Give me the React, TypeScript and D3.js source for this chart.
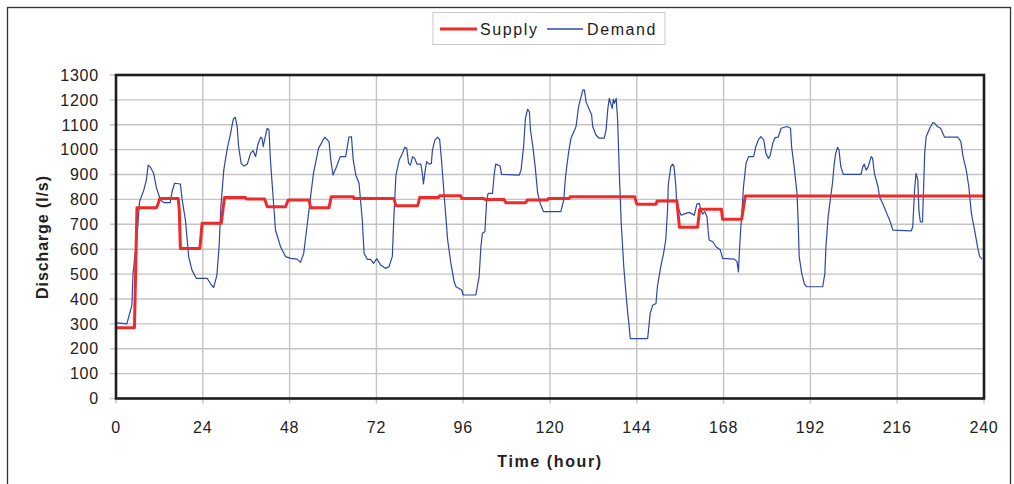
import React from "react";
import * as d3 from "d3";

const xTicks = [0, 24, 48, 72, 96, 120, 144, 168, 192, 216, 240];
const yTicks = [0, 100, 200, 300, 400, 500, 600, 700, 800, 900, 1000, 1100, 1200, 1300];
const seriesNames = ["Supply", "Demand"];

const supply: [number, number][] = [
  [0, 284], [5.1, 284], [5.8, 767], [11.2, 767], [11.6, 780], [12.1, 804], [17.2, 804], [17.5, 757], [17.8, 603],
  [23.2, 603], [23.8, 704], [29.1, 704], [30, 808], [35.8, 808], [36, 802], [41.1, 802], [41.8, 771], [46.9, 771],
  [47.6, 798], [53.4, 798], [53.8, 767], [58.9, 767], [59.5, 811], [65.6, 811], [65.8, 804], [76.8, 804], [77.4, 775],
  [83.4, 775], [84, 808], [89.2, 808], [89.5, 815], [95.3, 815], [95.6, 804], [101.7, 804], [102, 800], [107.3, 800],
  [107.8, 787], [113.3, 787], [113.7, 798], [119.3, 798], [119.6, 804], [125.3, 804], [125.6, 811], [143.4, 811],
  [144, 781], [149.3, 781], [149.6, 794], [155.1, 794], [155.3, 760], [155.8, 688], [160.8, 688], [161.4, 761],
  [167.4, 761], [167.7, 720], [173, 720], [174, 814], [240, 814],
];

const demand: [number, number][] = [
  [0, 305], [3, 300], [4.4, 375], [4.7, 500], [5.8, 650], [6.5, 790], [7.7, 838], [8.4, 878], [8.9, 938], [9.5, 930],
  [10.4, 905], [11.2, 845], [12.3, 798], [13.2, 787], [15, 787], [15.5, 831], [16.2, 865], [17.8, 862], [18.3, 798],
  [19.2, 717], [20.1, 570], [21, 516], [22.2, 483], [25.2, 483], [26.1, 462], [27, 446], [27.9, 496], [28.5, 610],
  [29, 771], [29.8, 918], [30.7, 999], [31.7, 1066], [32.4, 1122], [33, 1130], [33.5, 1093], [33.9, 1012], [34.6, 945],
  [35.4, 934], [36.3, 942], [37.2, 985], [37.9, 996], [38.6, 972], [39.2, 1019], [40, 1050], [40.4, 1046], [40.7, 1012],
  [41.2, 1046], [41.8, 1086], [42.3, 1079], [42.7, 958], [43.5, 798], [44.1, 677], [45.5, 610], [46.9, 570], [48.3, 563],
  [50.1, 560], [51, 547], [51.9, 583], [52.8, 690], [53.7, 798], [54.6, 905], [56, 1005], [57.7, 1050], [58.9, 1032],
  [59.4, 958], [60, 898], [60.8, 925], [62, 972], [63.5, 972], [64.4, 1050], [65.1, 1052], [65.6, 958], [66.3, 898],
  [67.2, 865], [68.1, 717], [68.6, 583], [69.5, 559], [70.4, 559], [71.2, 543], [72.1, 562], [73.2, 536], [74.5, 523],
  [75.5, 530], [76.4, 570], [76.8, 717], [77.4, 898], [78.3, 958], [79.2, 985], [79.8, 1009], [80.4, 1005], [80.9, 945],
  [81.4, 938], [82, 972], [82.6, 965], [83.2, 942], [84.3, 942], [84.7, 905], [85, 862], [85.5, 918], [85.9, 952],
  [86.6, 942], [87.2, 945], [87.5, 999], [88.2, 1039], [88.9, 1050], [89.5, 1039], [90, 958], [90.7, 824], [91.7, 637],
  [92.6, 543], [93.5, 469], [94, 449], [94.9, 442], [95.6, 436], [96, 416], [99.5, 416], [100.4, 489], [100.9, 610],
  [101.3, 664], [102, 670], [102.5, 798], [102.9, 824], [104.1, 824], [104.6, 905], [105, 942], [106.2, 934],
  [106.6, 901], [111.5, 898], [112, 918], [112.7, 1012], [113.2, 1126], [113.8, 1162], [114.3, 1153], [114.6, 1079],
  [115.2, 1019], [115.9, 932], [116.6, 824], [117.3, 784], [118.2, 751], [123, 751], [123.8, 798], [124.3, 891],
  [125.1, 985], [125.8, 1046], [126.8, 1079], [127.2, 1093], [127.9, 1173], [128.6, 1213], [129.1, 1240], [129.5, 1240],
  [130, 1190], [130.9, 1160], [131.5, 1140], [131.8, 1093], [132.7, 1059], [133.6, 1046], [135, 1046], [135.5, 1079],
  [136, 1166], [136.4, 1206], [136.9, 1180], [137.2, 1166], [137.5, 1203], [137.8, 1186], [138.3, 1206], [138.7, 1119],
  [139.2, 891], [139.7, 704], [140.4, 529], [141, 422], [141.5, 342], [141.9, 288], [142.2, 241], [147, 241],
  [147.7, 342], [148.4, 375], [149.3, 382], [149.7, 449], [150.6, 529], [151.4, 583], [152, 637], [152.5, 757],
  [152.7, 858], [153.4, 932], [153.9, 942], [154.3, 932], [154.8, 851], [155, 798], [155.7, 757], [156.2, 737],
  [157.6, 744], [158.5, 748], [159.4, 741], [159.9, 737], [160.6, 781], [161.3, 784], [161.7, 757], [162.2, 741],
  [162.8, 751], [163.4, 730], [163.8, 664], [164, 637], [165, 630], [165.9, 610], [167.1, 597], [167.7, 563],
  [171, 560], [171.7, 550], [172.1, 509], [172.3, 570], [172.6, 650], [173.1, 757], [173.5, 851], [174.2, 945],
  [174.9, 972], [176.3, 972], [176.9, 1012], [177.6, 1039], [178.3, 1052], [179.1, 1039], [179.7, 985], [180.4, 965],
  [180.9, 978], [181.6, 1026], [182.2, 1048], [183.1, 1050], [183.9, 1086], [185.5, 1093], [186.5, 1086], [186.8, 1012],
  [187.5, 932], [188.3, 824], [188.6, 717], [188.9, 570], [189.6, 503], [190.3, 462], [191, 449], [195.4, 449],
  [196, 503], [196.3, 610], [196.9, 730], [197.5, 798], [198.1, 865], [198.6, 945], [199, 985], [199.5, 1009],
  [199.9, 999], [200.4, 932], [201.1, 901], [206, 901], [206.5, 932], [206.9, 942], [207.4, 918], [208, 932],
  [208.8, 972], [209.2, 965], [209.7, 905], [210.7, 851], [211.1, 811], [212, 784], [212.9, 751], [213.9, 717],
  [214.8, 677], [219.9, 674], [220.3, 690], [220.8, 838], [221.2, 905], [221.7, 878], [222, 757], [222.4, 710],
  [223, 710], [223.6, 985], [224, 1052], [225, 1086], [225.9, 1109], [226.4, 1106], [227.1, 1093], [228, 1086],
  [229.1, 1050], [232.8, 1050], [233.6, 1032], [234.2, 972], [235.1, 918], [235.8, 851], [236.5, 744], [237.4, 677],
  [238.2, 610], [238.8, 570], [239.5, 560],
];

const W = 1014;
const H = 484;
const M = { left: 116, right: 984, top: 75, bottom: 398.5 };
const FONT = "'Liberation Sans', Arial, sans-serif";
const RED = "#ee2b2b";
const BLUE = "#2c48a6";

export default function App() {
  const x = d3.scaleLinear().domain([0, 240]).range([M.left, M.right]);
  const y = d3.scaleLinear().domain([0, 1300]).range([M.bottom, M.top]);
  const line = d3
    .line<[number, number]>()
    .x((d) => x(d[0]))
    .y((d) => y(d[1]));

  return (
    <svg
      width={W}
      height={H}
      style={{ position: "absolute", left: 0, top: 0, background: "#fff" }}
      fontFamily={FONT}
    >
      <rect x={7.5} y={7.5} width={1003} height={500} fill="#fff" stroke="#333" strokeWidth={1.3} />
      {/* gridlines */}
      {yTicks.map((t) => (
        <line key={"gy" + t} x1={M.left - 6} x2={M.right} y1={y(t)} y2={y(t)} stroke="#c4c4c4" strokeWidth={1.4} />
      ))}
      {xTicks.map((t) => (
        <line key={"gx" + t} x1={x(t)} x2={x(t)} y1={M.top} y2={M.bottom + 5} stroke="#c4c4c4" strokeWidth={1.4} />
      ))}
      {/* series */}
      <path d={line(demand) ?? ""} fill="none" stroke={BLUE} strokeWidth={1.2} strokeLinejoin="round" />
      <path d={line(supply) ?? ""} fill="none" stroke={RED} strokeWidth={3} strokeLinejoin="round" />
      {/* plot frame */}
      <rect
        x={M.left}
        y={M.top}
        width={M.right - M.left}
        height={M.bottom - M.top}
        fill="none"
        stroke="#1e1e1e"
        strokeWidth={2.6}
      />
      {/* y tick labels */}
      {yTicks.map((t) => (
        <text
          key={"ty" + t}
          x={99}
          y={y(t)}
          dy="0.36em"
          textAnchor="end"
          fontSize={16}
          letterSpacing={0.8}
          fill="#222"
        >
          {t}
        </text>
      ))}
      {/* x tick labels */}
      {xTicks.map((t) => (
        <text
          key={"tx" + t}
          x={x(t)}
          y={433}
          textAnchor="middle"
          fontSize={16}
          letterSpacing={0.8}
          fill="#222"
        >
          {t}
        </text>
      ))}
      {/* axis titles */}
      <text x={550} y={467} textAnchor="middle" fontSize={16} fontWeight="bold" letterSpacing={1.6} fill="#222">
        Time (hour)
      </text>
      <text
        transform={`translate(48,237) rotate(-90)`}
        textAnchor="middle"
        fontSize={16}
        fontWeight="bold"
        letterSpacing={0.9}
        fill="#222"
      >
        Discharge (l/s)
      </text>
      {/* legend */}
      <rect x={433} y={12.5} width={232} height={32} fill="#fff" stroke="#c8c8c8" strokeWidth={1} />
      <line x1={440} x2={477} y1={29} y2={29} stroke={RED} strokeWidth={3} />
      <text x={480} y={35} fontSize={16} letterSpacing={1.6} fill="#222">
        {seriesNames[0]}
      </text>
      <line x1={547} x2={583} y1={29} y2={29} stroke={BLUE} strokeWidth={1.3} />
      <text x={587} y={35} fontSize={16} letterSpacing={1.6} fill="#222">
        {seriesNames[1]}
      </text>
    </svg>
  );
}
